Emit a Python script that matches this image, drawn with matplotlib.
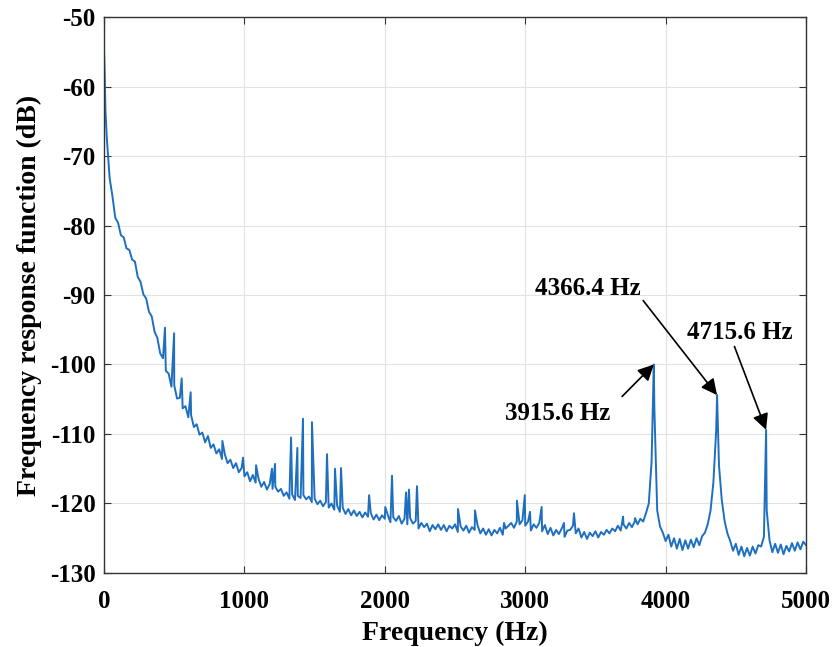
import numpy as np
import matplotlib
matplotlib.use("Agg")
import matplotlib.pyplot as plt

plt.rcParams['font.family'] = ['Liberation Serif', 'DejaVu Serif']
plt.rcParams['font.weight'] = 'bold'
plt.rcParams['axes.unicode_minus'] = False

# spectrum, one value every 20 Hz (0 .. 5000 Hz)
grid_step = 20
base_db = [
    -55.0, -67.5, -73.2, -75.8, -78.9, -79.6, -81.4, -81.7, -83.3, -83.5,
    -84.9, -85.2, -87.4, -88.1, -89.9, -90.5, -92.4, -93.1, -95.3, -96.2,
    -98.4, -99.1, -100.9, -101.3, -103.2, -103.0, -104.9, -104.8, -106.3, -106.0,
    -107.6, -107.3, -109.0, -108.6, -110.1, -109.8, -111.2, -110.3, -112.0, -111.5,
    -112.8, -112.2, -113.6, -112.9, -114.2, -113.7, -114.9, -114.2, -115.5, -114.9,
    -116.1, -115.5, -116.8, -115.9, -117.0, -116.4, -117.6, -116.9, -118.0, -117.2,
    -117.9, -117.6, -118.3, -117.9, -118.9, -118.4, -119.3, -118.7, -119.5, -118.9,
    -119.2, -118.8, -119.4, -119.0, -119.8, -119.3, -120.1, -119.6, -120.4, -119.8,
    -120.6, -120.0, -120.9, -120.3, -121.2, -120.6, -121.5, -120.8, -121.7, -121.0,
    -121.8, -121.2, -122.0, -121.3, -121.9, -121.4, -122.3, -121.6, -122.4, -121.7,
    -122.2, -121.6, -122.7, -122.0, -122.5, -121.8, -122.9, -122.2, -123.0, -122.1,
    -122.9, -122.5, -123.6, -122.8, -123.4, -122.9, -124.0, -123.1, -123.7, -123.0,
    -123.8, -123.1, -124.0, -123.2, -123.6, -123.0, -124.1, -123.3, -123.9, -123.2,
    -124.2, -123.4, -123.8, -123.1, -124.3, -123.6, -124.5, -123.7, -124.6, -123.8,
    -124.3, -123.5, -124.5, -123.6, -123.2, -122.8, -123.5, -122.6, -123.0, -122.4,
    -123.2, -122.6, -123.9, -123.0, -123.5, -122.8, -124.0, -123.1, -124.4, -123.5,
    -124.6, -123.8, -124.4, -123.6, -124.8, -123.9, -123.8, -123.2, -124.3, -123.6,
    -124.9, -124.1, -125.1, -124.2, -124.7, -124.0, -124.9, -124.1, -124.5, -123.8,
    -124.3, -123.6, -124.0, -123.2, -123.9, -123.0, -123.6, -122.8, -123.4, -122.6,
    -123.0, -122.2, -122.6, -121.4, -120.0, -114.0, -106.5, -121.0, -123.3, -124.2,
    -125.4, -124.5, -126.2, -125.0, -126.5, -125.1, -126.7, -125.3, -126.5, -125.2,
    -126.3, -125.0, -126.0, -124.7, -124.2, -123.0, -121.0, -117.0, -109.5, -114.5,
    -119.5, -122.5, -124.3, -125.4, -126.8, -125.8, -127.4, -126.2, -127.6, -126.4,
    -127.5, -126.2, -127.2, -126.0, -126.2, -124.8, -121.0, -125.3, -127.0, -125.8,
    -127.1, -125.9, -127.3, -126.1, -126.9, -125.7, -126.8, -125.6, -126.6, -125.5,
    -126.0,
]

# narrow resonance spikes and extra detail points
peak_freq = [5, 10, 434, 499, 553, 617, 843, 990, 1083, 1196, 1218, 1332, 1377,
             1417, 1481, 1588, 1645, 1688, 1888, 2003, 2051, 2151, 2172, 2229,
             2521, 2642, 2849, 2941, 2997, 3034, 3117, 3276, 3347, 3697, 3782,
             3915.6, 4366.4, 4715.6]
peak_db = [-58.5, -63.5, -94.7, -95.5, -102.0, -104.0, -111.0, -113.4, -114.5,
           -115.0, -114.3, -110.5, -112.0, -107.8, -108.3, -112.9, -115.0, -114.9,
           -118.8, -120.5, -116.0, -118.4, -118.0, -117.5, -120.8, -121.0, -122.8,
           -119.6, -118.8, -121.2, -120.5, -122.8, -121.4, -121.9, -122.1,
           -100.0, -104.4, -109.4]

annot_labels = ['3915.6 Hz', '4366.4 Hz', '4715.6 Hz']
annot_peak = [(3915.6, -100.0), (4366.4, -104.4), (4715.6, -109.4)]
annot_text = [(3234, -107.0), (3447, -89.0), (4530, -95.4)]
annot_tail = [(3690, -104.6), (3840, -90.8), (4490, -97.4)]

grid_freq = np.arange(len(base_db)) * grid_step
freq = np.concatenate([grid_freq, peak_freq])
db = np.concatenate([base_db, peak_db])
order = np.argsort(freq)
freq, db = freq[order], db[order]

fig = plt.figure(figsize=(8.35, 6.47), dpi=100)
ax = fig.add_axes([0.1246, 0.1144, 0.8407, 0.8593])
ax.plot(freq, db, color='#1f6fc0', lw=1.4)

ax.set_xlim(0, 5000)
ax.set_ylim(-130, -50)
ax.set_xticks(range(0, 5001, 1000))
ax.set_yticks(range(-130, -49, 10))
ax.grid(True, color='#e2e2e2', lw=0.8)
ax.set_axisbelow(True)
ax.tick_params(direction='in', top=True, right=True, length=5, width=0.8,
               labelsize=18, color='#333333', pad=6)
ax.tick_params(axis='x', pad=12)
for s in ax.spines.values():
    s.set_color('#333333')
    s.set_linewidth(1.0)

ax.set_xlabel('Frequency (Hz)', fontsize=20, fontweight='bold', labelpad=6)
ax.set_ylabel('Frequency response function (dB)', fontsize=20, fontweight='bold', labelpad=6)

for lab, pk, tx, tl in zip(annot_labels, annot_peak, annot_text, annot_tail):
    ax.text(tx[0], tx[1], lab, fontsize=18, fontweight='bold', ha='center', va='center')
    ax.annotate('', xy=pk, xytext=tl,
                arrowprops=dict(arrowstyle='-|>', color='k', lw=1.2,
                                mutation_scale=24, shrinkA=0, shrinkB=0))

fig.savefig('out.png', dpi=100)
